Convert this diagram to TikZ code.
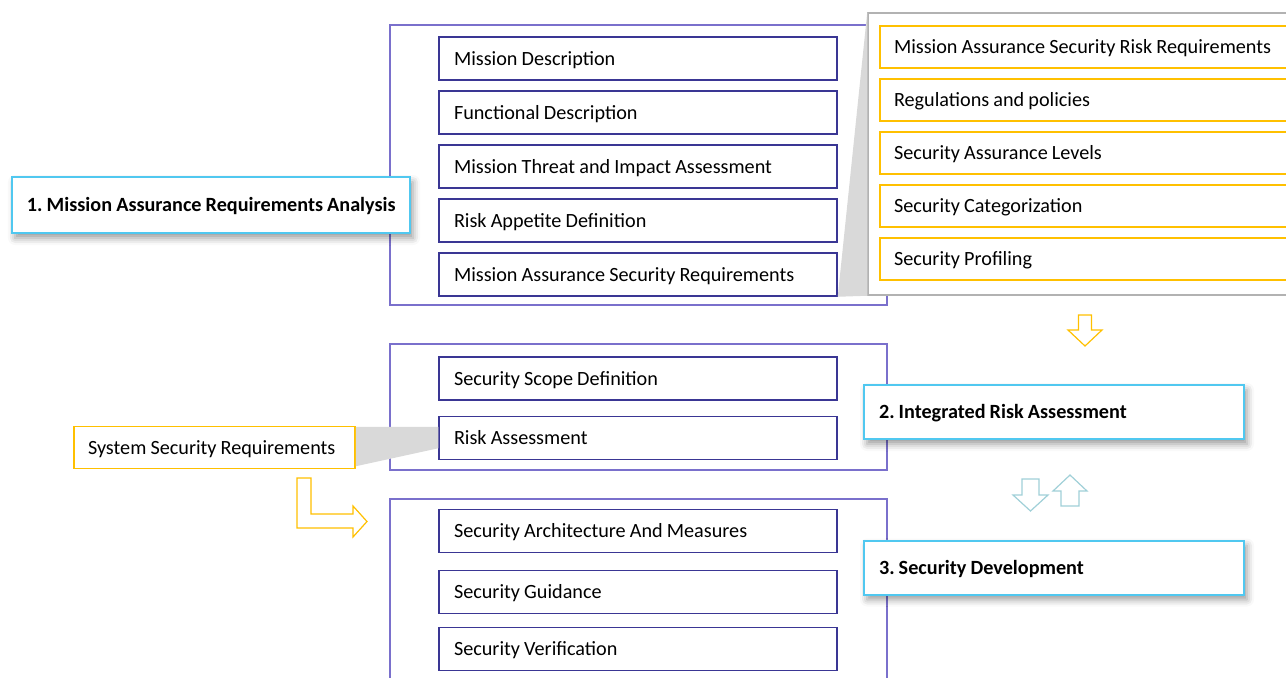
\documentclass[tikz,border=0pt]{standalone}
\usepackage{fontspec}
\setmainfont{Carlito}[WordSpace=0.9]
\usetikzlibrary{shadows.blur}

\definecolor{groupline}{RGB}{122,112,204}
\definecolor{stepline}{RGB}{58,54,148}
\definecolor{amber}{RGB}{255,192,0}
\definecolor{phaseline}{RGB}{80,200,240}
\definecolor{flowteal}{RGB}{160,208,216}
\definecolor{calloutgray}{RGB}{217,217,217}

\frenchspacing

\begin{document}
\begin{tikzpicture}[x=0.5pt, y=-0.5pt, font=\fontsize{10.1}{12}\selectfont,
        every node/.style={text height=8pt, text depth=1.5pt},
        group/.style={draw=groupline, line width=0.6pt, inner sep=0pt},
        stepbox/.style={draw=stepline, line width=0.75pt, fill=white, minimum height=21.5pt, inner xsep=7.5pt, inner ysep=0pt, text width=184pt, align=flush left},
        reqbox/.style={draw=amber, line width=0.75pt, fill=white, minimum height=21pt, inner xsep=7pt, inner ysep=0pt, text width=196pt, align=flush left},
        phase/.style={draw=phaseline, line width=1pt, fill=white, font=\fontsize{10.1}{12}\selectfont\bfseries, inner xsep=7.5pt, inner ysep=0pt, align=flush left,
            blur shadow={shadow xshift=1.5pt, shadow yshift=-2.5pt, shadow blur radius=3.5pt, shadow opacity=40}},
        hollow/.style={line width=0.6pt, fill=white, line join=miter}]
        \useasboundingbox (0,0) rectangle (1286,677);

        % Groups
        \node[group, minimum width=248.5pt, minimum height=140pt] (mission) at (638.5,165) {};
        \node[group, minimum width=248.5pt, minimum height=63pt] (risk) at (638.5,407) {};
        \node[group, minimum width=248.5pt, minimum height=100.5pt] (devel) at (638.5,599.5) {};

        % Steps of the mission analysis
        \node[stepbox] (mdesc) at (638,58.5) {Mission Description};
        \node[stepbox, below of=mdesc, node distance=27pt] (fdesc) {Functional Description};
        \node[stepbox, below of=fdesc, node distance=27pt] (threat) {Mission Threat and Impact Assessment};
        \node[stepbox, below of=threat, node distance=27pt] (appetite) {Risk Appetite Definition};
        \node[stepbox, below of=appetite, node distance=27pt] (masreq) {Mission Assurance Security Requirements};

        % Callout with the security requirements
        \node[draw=black!30, line width=0.75pt, fill=white, minimum width=216pt, minimum height=141pt] (panel) at (1084,154) {};
        \fill[calloutgray] (masreq.south east) -- (panel.north west) -- (panel.south west) -- cycle;
        \node[reqbox] (msrr) at (1090,47) {Mission Assurance Security Risk Requirements};
        \node[reqbox, below of=msrr, node distance=26.5pt] (regul) {Regulations and policies};
        \node[reqbox, below of=regul, node distance=26.5pt] (levels) {Security Assurance Levels};
        \node[reqbox, below of=levels, node distance=26.5pt] (categ) {Security Categorization};
        \node[reqbox, below of=categ, node distance=26.5pt] (profil) {Security Profiling};

        % Risk assessment steps
        \node[stepbox] (scope) at (638,378.5) {Security Scope Definition};
        \node[stepbox, below of=scope, node distance=29.75pt] (riskass) {Risk Assessment};
        \node[reqbox, minimum width=140.5pt, text width=126.5pt] (sysreq) at (214.5,447.5) {System Security Requirements};
        \fill[calloutgray] ([yshift=-0.5pt]sysreq.north east) -- ([yshift=-5.5pt]riskass.north west)
            -- ([yshift=6pt]riskass.south west) -- ([yshift=1.5pt]sysreq.south east) -- cycle;

        % Development steps
        \node[stepbox] (archi) at (638,531) {Security Architecture And Measures};
        \node[stepbox, below of=archi, node distance=30.5pt] (guide) {Security Guidance};
        \node[stepbox, below of=guide, node distance=28.5pt] (verif) {Security Verification};

        % Phases
        \node[phase, minimum width=199pt, minimum height=28pt, text width=186pt, inner xsep=6.5pt] (phase1) at (211,205) {\hspace*{1pt}1. Mission Assurance Requirements Analysis};
        \node[phase, minimum width=190pt, minimum height=27pt, text width=175pt] (phase2) at (1054,412) {2. Integrated Risk Assessment};
        \node[phase, minimum width=190pt, minimum height=27pt, text width=175pt] (phase3) at (1054,567.5) {3. Security Development};

        % Flow arrows
        \draw[hollow, draw=amber] (1078.5,315) -- (1091.5,315) -- (1091.5,330) -- (1102,330) -- (1085,346) -- (1068,330) -- (1078.5,330) -- cycle;
        \draw[hollow, draw=amber] (297,478) -- (311,478) -- (311,514) -- (353,514) -- (353,506) -- (367,521.5) -- (353,537) -- (353,528) -- (297,528) -- cycle;
        \draw[hollow, draw=flowteal] (1022,479) -- (1039,479) -- (1039,495) -- (1048,495) -- (1030.5,511) -- (1013,495) -- (1022,495) -- cycle;
        \draw[hollow, draw=flowteal] (1061,506) -- (1079,506) -- (1079,491) -- (1087,491) -- (1070,475) -- (1053,491) -- (1061,491) -- cycle;

    \end{tikzpicture}
\end{document}
